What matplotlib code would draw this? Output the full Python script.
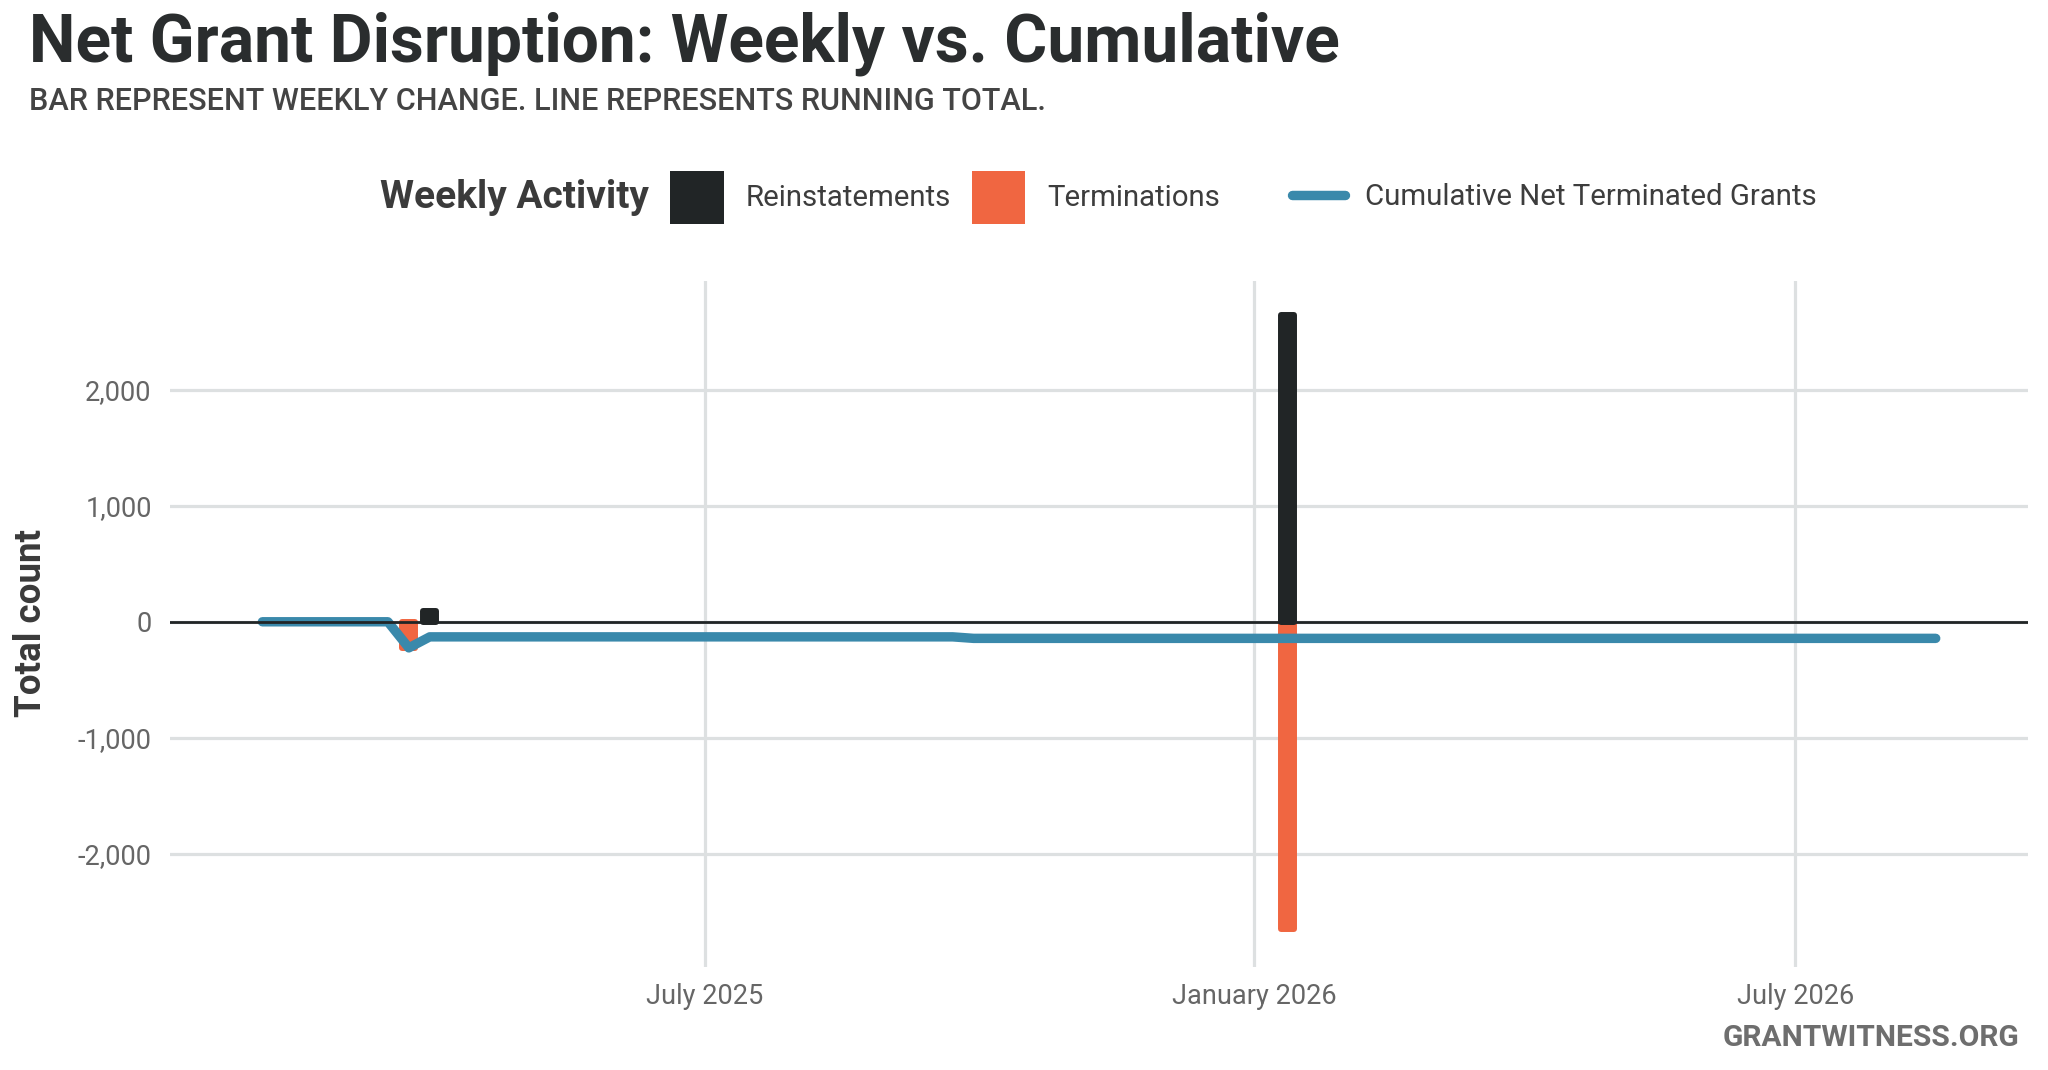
import matplotlib
matplotlib.use("Agg")
import matplotlib.pyplot as plt
import matplotlib.dates as mdates
from matplotlib.patches import Patch
from matplotlib.lines import Line2D
from matplotlib.ticker import FuncFormatter, FixedLocator
import pandas as pd

# ---------------- data ----------------
line_dates = ["2025-02-03", "2025-03-17", "2025-03-24", "2025-03-31",
              "2025-09-22", "2025-09-29", "2026-08-17"]
line_values = [0, 0, -225, -130, -130, -143, -143]

reinst_dates = ["2025-03-31", "2026-01-12"]
reinst_values = [95, 2650]

term_dates = ["2025-03-24", "2026-01-12"]
term_values = [225, 2650]

x_tick_dates = ["2025-07-01", "2026-01-01", "2026-07-01"]
x_tick_labels = ["July 2025", "January 2026", "July 2026"]
y_ticks = [-2000, -1000, 0, 1000, 2000]

title = "Net Grant Disruption: Weekly vs. Cumulative"
subtitle = "BAR REPRESENT WEEKLY CHANGE. LINE REPRESENTS RUNNING TOTAL."
caption = "GRANTWITNESS.ORG"

# ---------------- style ----------------
C_BLACK = "#212526"
C_ORANGE = "#F06641"
C_BLUE = "#3A89AB"
C_GRID = "#DDE0E1"
FONT = ["Roboto", "DejaVu Sans"]
plt.rcParams["font.family"] = FONT
plt.rcParams["axes.unicode_minus"] = False

W, H = 2048, 1070
fig = plt.figure(figsize=(W / 100, H / 100), dpi=100)
fig.patch.set_facecolor("white")
renderer = fig.canvas.get_renderer()

def fit(t, target_px):
    bb = t.get_window_extent(renderer=renderer)
    t.set_fontsize(t.get_fontsize() * target_px / bb.width)
    return t

ax = fig.add_axes([0.0829, 0.0965, 0.9075, 0.641])
ax.set_facecolor("white")

ld = pd.to_datetime(line_dates)
rd = pd.to_datetime(reinst_dates)
td = pd.to_datetime(term_dates)

bar_w = 4.4  # days
edge_lw = 4.3
ax.bar(td, [-v for v in term_values], width=bar_w, color=C_ORANGE,
       edgecolor=C_ORANGE, linewidth=edge_lw, joinstyle="round", zorder=2)
ax.bar(rd, reinst_values, width=bar_w, color=C_BLACK,
       edgecolor=C_BLACK, linewidth=edge_lw, joinstyle="round", zorder=2)
ax.plot(ld, line_values, color=C_BLUE, lw=6.8, solid_capstyle="round",
        solid_joinstyle="round", zorder=3)
ax.axhline(0, color=C_BLACK, lw=2.0, zorder=4)

ax.set_xlim(pd.Timestamp("2025-01-03"), pd.Timestamp("2026-09-17"))
ax.set_ylim(-2975, 2940)

ax.xaxis.set_major_locator(FixedLocator(mdates.date2num(pd.to_datetime(x_tick_dates))))
ax.set_xticklabels(x_tick_labels)
ax.yaxis.set_major_locator(FixedLocator(y_ticks))
ax.yaxis.set_major_formatter(FuncFormatter(lambda v, p: f"{v:,.0f}"))

ax.grid(True, color=C_GRID, lw=2.3, zorder=0)
ax.set_axisbelow(True)
for s in ax.spines.values():
    s.set_visible(False)
ax.tick_params(axis="both", length=0, colors="#666666", labelsize=19.5)
ax.tick_params(axis="y", pad=13)
ax.tick_params(axis="x", pad=12)

# y label
fig.text(0.0153, 0.4180, "Total count", rotation=90, ha="center", va="center",
         fontsize=26.5, fontweight="bold", color="#3a3a3a")

# title / subtitle / caption
t1 = fig.text(0.014, 0.9426, title, ha="left", va="baseline",
              fontsize=40, fontweight="bold", color="#2a2d2e")
fit(t1, 1309)
t2 = fig.text(0.014, 0.8974, subtitle, ha="left", va="baseline",
              fontsize=18, fontweight="medium", color="#444444")
fit(t2, 1020)
t3 = fig.text(0.9862, 0.022, caption, ha="right", va="baseline",
              fontsize=18, fontweight="bold", color="#6e6e6e")
fit(t3, 298)

# legend
tmp = fig.text(0, 0, "Cumulative Net Terminated Grants", fontsize=18)
fit(tmp, 452)
fs = tmp.get_fontsize()
tmp.remove()
fpx = fs * 100 / 72
ly = 1 - 151 / 819

wt = fig.text(291 / 1568, ly, "Weekly Activity", ha="left", va="center",
              fontsize=fs, fontweight="bold", color="#3b3b3b")
fit(wt, 269)

key = 53.5 / fpx
key_h = (key - 0.245) / 0.65
leg1 = fig.legend(handles=[Patch(facecolor=C_BLACK, lw=0), Patch(facecolor=C_ORANGE, lw=0)],
                  labels=["Reinstatements", "Terminations"], ncol=2,
                  loc="center left", bbox_to_anchor=(513 / 1568, ly),
                  frameon=False, borderpad=0, borderaxespad=0,
                  handlelength=key, handleheight=key_h,
                  handletextpad=22 / fpx, columnspacing=21 / fpx,
                  fontsize=fs, labelcolor="#3d3d3d")
leg2 = fig.legend(handles=[Line2D([0], [0], color=C_BLUE, lw=6.8, solid_capstyle="round")],
                  labels=["Cumulative Net Terminated Grants"],
                  loc="center left", bbox_to_anchor=(989 / 1568, ly),
                  frameon=False, borderpad=0, borderaxespad=0,
                  handlelength=key, handletextpad=20 / fpx,
                  fontsize=fs, labelcolor="#3d3d3d")

fig.savefig("out.png", dpi=100, facecolor="white")
